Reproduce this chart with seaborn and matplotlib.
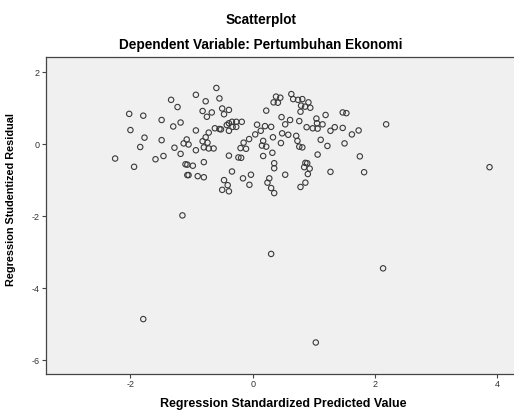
import pandas as pd
import matplotlib
matplotlib.use('Agg')
from matplotlib import pyplot as plt
import seaborn as sns

# values (standardized predicted value, studentized residual)
predicted = [
    -0.93, -1.335, -0.77, -1.23, -2.02, -1.79, -0.82, -0.75, -1.49, -1.18,
    -1.30, -2.00, -0.93, -1.77, -1.49, -1.08, -0.72, -0.77, -1.84, -1.13,
    -1.05, -0.82, -0.74, -1.28, -0.80, -0.72, -0.93, -1.18, -1.46, -1.59,
    -2.25, -1.94, -1.10, -1.07, -0.98, -0.80, -1.07, -1.05, -0.90, -0.80,
    -0.595, -0.545, -0.67, -0.50, -0.39, -0.47, -0.64, -0.62, -0.545, -0.52,
    -0.425, -0.39, -0.34, -0.27, -0.18, -0.27, -0.33, -0.39, -0.39, -0.235,
    -0.19, -0.34, -0.47, -0.41, -0.50, -0.39, -0.16, -0.03, -0.055, 0.38,
    0.45, 0.34, 0.41, 0.63, 0.66, 0.74, 0.81, 0.91, 0.79, 0.855,
    0.94, 0.78, 0.22, 0.07, 0.20, 0.30, 0.13, 0.04, -0.06, -0.15,
    -0.20, -0.11, 0.17, 0.33, 0.15, 0.22, 0.32, 0.17, 0.47, 0.61,
    0.53, 0.76, 0.88, 0.98, 1.04, 1.06, 1.19, 1.14, 1.27, 1.34,
    0.46, 0.48, 0.58, 0.71, 0.73, 0.76, 0.81, 1.11, 1.22, 1.06,
    0.35, 0.35, 0.53, 0.27, 0.24, 0.30, 0.35, 0.86, 0.84, 0.93,
    0.90, 0.86, 0.78, 1.27, 0.89, 1.05,
    1.47, 1.53, 1.47, 1.62, 1.73, 2.18, 1.50, 1.75, 1.82, 3.87,
    -1.15, 0.30, 2.13, -1.79, 1.03,
]
residual = [
    1.38, 1.24, 1.20, 1.04, 0.85, 0.80, 0.93, 0.77, 0.68, 0.61,
    0.50, 0.40, 0.39, 0.19, 0.12, 0.14, 0.33, 0.20, -0.07, 0.03,
    0.00, 0.09, 0.05, -0.09, -0.08, -0.11, -0.16, -0.26, -0.32, -0.41,
    -0.39, -0.62, -0.55, -0.56, -0.59, -0.49, -0.85, -0.85, -0.88, -0.91,
    1.57, 1.28, 0.89, 1.00, 0.96, 0.84, -0.11, 0.45, 0.43, 0.42,
    0.54, 0.59, 0.63, 0.63, 0.63, 0.49, 0.49, 0.38, -0.31, -0.36,
    -0.37, -0.75, -0.99, -1.13, -1.26, -1.30, -0.94, -0.84, -1.12, 1.33,
    1.30, 1.17, 1.16, 1.40, 1.26, 1.24, 1.26, 1.17, 1.08, 1.05,
    1.02, 0.91, 0.94, 0.55, 0.51, 0.49, 0.38, 0.28, 0.15, 0.05,
    -0.10, -0.12, 0.10, 0.20, -0.03, -0.06, -0.23, -0.32, 0.76, 0.68,
    0.56, 0.65, 0.48, 0.45, 0.72, 0.44, 0.82, 0.56, 0.38, 0.48,
    0.04, 0.31, 0.27, 0.24, 0.10, -0.06, -0.08, 0.13, -0.04, -0.28,
    -0.52, -0.66, -0.84, -0.94, -1.06, -1.21, -1.35, -0.51, -0.63, -0.67,
    -0.82, -1.06, -1.18, -0.76, -0.52, 0.59,
    0.89, 0.87, 0.46, 0.28, 0.39, 0.56, 0.03, -0.33, -0.77, -0.63,
    -1.97, -3.04, -3.44, -4.85, -5.50,
]
x_ticks = [-2, 0, 2, 4]
y_ticks = [2, 0, -2, -4, -6]

df = pd.DataFrame({'predicted': predicted, 'residual': residual})

sns.set_style('ticks')
plt.rcParams['font.family'] = ['Liberation Sans', 'DejaVu Sans']
plt.rcParams['axes.unicode_minus'] = False
plt.rcParams['text.color'] = 'black'
plt.rcParams['axes.labelcolor'] = 'black'

fig = plt.figure(figsize=(5.14, 4.12), dpi=100)
ax = fig.add_axes([46/514, 38/412, 468/514, 317/412])
ax.set_facecolor('#f0f0f0')

sns.scatterplot(data=df, x='predicted', y='residual', ax=ax, s=15,
                facecolor='none', edgecolor='#3a3a3a', linewidth=0.8)

ax.set_xlim(-3.38, 4.27)
ax.set_ylim(-6.375, 2.43)
ax.set_xticks(x_ticks)
ax.set_yticks(y_ticks)
ax.tick_params(length=3, width=0.8, color='#444444', labelsize=6.5,
               labelcolor='#333333', pad=1.5)

for side in ['left', 'bottom', 'top']:
    ax.spines[side].set_color('#444444')
    ax.spines[side].set_linewidth(0.9)
ax.spines['right'].set_visible(False)

ax.set_xlabel('Regression Standardized Predicted Value', fontsize=9, fontweight='bold')
ax.set_ylabel('Regression Studentized Residual', fontsize=7.8, fontweight='bold')
ax.xaxis.set_label_coords(0.507, -0.075)
ax.yaxis.set_label_coords(-0.064, 0.55)

fig.text(0.508, 0.951, 'Scatterplot', ha='center', va='center',
         fontsize=9.8, fontweight='bold')
fig.text(0.508, 0.891, 'Dependent Variable: Pertumbuhan Ekonomi', ha='center',
         va='center', fontsize=9.8, fontweight='bold')

fig.savefig('out.png', dpi=100)
